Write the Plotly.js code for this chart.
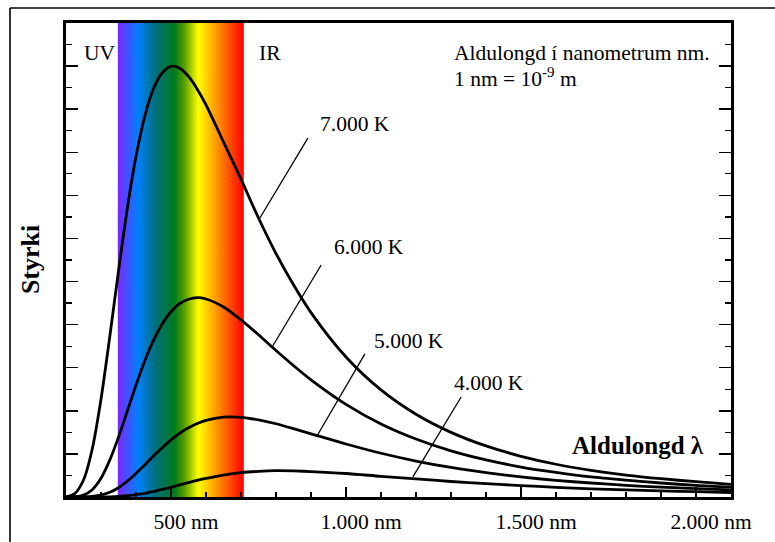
<!DOCTYPE html>
<html>
<head>
<meta charset="utf-8">
<script src="https://cdn.plot.ly/plotly-3.0.1.min.js"></script>
<style>body{margin:0;background:#fff}</style>
</head>
<body>
<div id="chart" style="width:775px;height:542px"></div>
<script>
// ---- data ----
const wavelengthNm = [200,225,250,275,300,325,350,375,400,425,450,475,500,525,550,575,600,650,700,750,800,850,900,1000,1100,1200,1300,1400,1500,1600,1700,1800,1900,2000,2100];
const intensity7000K = [0.01,0.16,0.79,2.23,4.54,7.43,10.49,13.37,15.80,17.67,18.95,19.69,19.99,19.90,19.52,18.93,18.20,16.48,14.75,12.95,11.30,9.85,8.56,6.50,4.97,3.84,3.00,2.37,1.89,1.52,1.24,1.02,0.85,0.71,0.59];
const intensity6000K = [0.00,0.01,0.09,0.34,0.87,1.71,2.78,3.98,5.19,6.31,7.27,8.03,8.60,8.98,9.18,9.25,9.19,8.82,8.22,7.53,6.80,6.10,5.44,4.30,3.39,2.69,2.14,1.72,1.39,1.14,0.93,0.78,0.65,0.54,0.46];
const intensity5000K = [0,0,0,0.03,0.09,0.22,0.43,0.73,1.09,1.49,1.90,2.29,2.65,2.96,3.21,3.41,3.56,3.71,3.70,3.58,3.40,3.17,2.93,2.46,2.03,1.67,1.37,1.13,0.93,0.77,0.65,0.54,0.46,0.39,0.33];
const intensity4000K = [0,0,0,0,0,0.01,0.03,0.06,0.11,0.17,0.26,0.35,0.45,0.56,0.67,0.77,0.86,1.02,1.13,1.19,1.22,1.21,1.18,1.09,0.96,0.84,0.72,0.62,0.53,0.45,0.38,0.33,0.28,0.25,0.21];
const seriesLabels = ['7.000 K','6.000 K','5.000 K','4.000 K'];
const xTickVals = [500,1000,1500,2000];
const xTickText = ['500 nm','1.000 nm','1.500 nm','2.000 nm'];
const visibleBandNm = [348, 708];
const yMax = 22;

// ---- styling / layout ----
const FONT = 'Liberation Serif, Times New Roman, serif';
const TXT = 21.5;
const spectrumScale = [
  [0.00,'#7d26ff'],[0.16,'#0080ff'],[0.30,'#00707a'],[0.45,'#007a1e'],
  [0.53,'#5aa000'],[0.64,'#ffff00'],[0.78,'#ff9a00'],[1.00,'#ff0000']
];

const series = [intensity7000K, intensity6000K, intensity5000K, intensity4000K];

const traces = [{
  type:'scatter', mode:'lines',
  x:[visibleBandNm[0], visibleBandNm[1], visibleBandNm[1], visibleBandNm[0], visibleBandNm[0]],
  y:[0, 0, yMax, yMax, 0],
  fill:'toself', line:{width:0},
  fillgradient:{type:'horizontal', colorscale: spectrumScale},
  hoverinfo:'skip'
}];
series.forEach(s => traces.push({
  type:'scatter', mode:'lines', x: wavelengthNm, y: s,
  line:{color:'#000', width:2.8, shape:'spline', smoothing:0.8},
  hoverinfo:'skip'
}));

// label & leader positions [labelX, labelY, leaderX0, leaderY0, leaderX1, leaderY1]
const labelPos = [
  [920, 17.31, 891, 16.66, 754, 12.95],
  [960, 11.60, 929, 10.77, 789, 6.96],
  [1074, 7.24, 1054, 6.64, 917, 2.83],
  [1303, 5.29, 1329, 4.64, 1191, 0.93]
];

const annotations = labelPos.map((p,i) => ({
  x:p[0], y:p[1], xref:'x', yref:'y', text: seriesLabels[i], showarrow:false,
  xanchor:'left', yanchor:'middle', font:{family:FONT, size:TXT, color:'#000'}
}));
annotations.push(
  {x:247, y:20.61, xref:'x', yref:'y', text:'UV', showarrow:false, xanchor:'left', yanchor:'middle', font:{family:FONT,size:TXT,color:'#000'}},
  {x:747, y:20.61, xref:'x', yref:'y', text:'IR', showarrow:false, xanchor:'left', yanchor:'middle', font:{family:FONT,size:TXT,color:'#000'}},
  {x:1302, y:20.61, xref:'x', yref:'y', text:'Aldulongd í nanometrum nm.', showarrow:false, xanchor:'left', yanchor:'middle', font:{family:FONT,size:TXT,color:'#000'}},
  {x:1302, y:19.45, xref:'x', yref:'y', text:'1 nm = 10<sup>-9</sup> m', showarrow:false, xanchor:'left', yanchor:'middle', font:{family:FONT,size:TXT,color:'#000'}},
  {x:1640, y:2.41, xref:'x', yref:'y', text:'<b>Aldulongd λ</b>', showarrow:false, xanchor:'left', yanchor:'middle', font:{family:FONT,size:25,color:'#000'}},
  {x:-0.054, y:0.5, xref:'paper', yref:'paper', text:'<b>Styrki</b>', textangle:-90, showarrow:false, xanchor:'center', yanchor:'middle', font:{family:FONT,size:26,color:'#000'}}
);

const shapes = labelPos.map(p => ({
  type:'line', xref:'x', yref:'y', x0:p[2], y0:p[3], x1:p[4], y1:p[5],
  line:{color:'#000', width:1.3}
}));
// outer frame (top & left)
shapes.push(
  {type:'line', xref:'paper', yref:'paper', x0:-0.0842, y0:1.0316, x1:1.2, y1:1.0316, line:{color:'#000', width:1.6}},
  {type:'line', xref:'paper', yref:'paper', x0:-0.0842, y0:1.0316, x1:-0.0842, y1:-0.2, line:{color:'#000', width:1.6}}
);

const layout = {
  width:775, height:542,
  margin:{l:66, r:44, t:23, b:45},
  paper_bgcolor:'#fff', plot_bgcolor:'#fff',
  showlegend:false,
  font:{family:FONT, size:TXT, color:'#000'},
  xaxis:{
    range:[200, 2100], tickmode:'array', tickvals:xTickVals, ticktext:xTickText,
    ticks:'inside', ticklen:10, tickwidth:1.5, tickcolor:'#000',
    minor:{tickmode:'linear', tick0:0, dtick:100, ticks:'inside', ticklen:5, tickwidth:1.3, tickcolor:'#000'},
    showline:true, linewidth:3, linecolor:'#000', mirror:true,
    showgrid:false, zeroline:false,
    tickfont:{family:FONT, size:TXT, color:'#000'},
    ticklabelshift:15, ticklabelstandoff:3
  },
  yaxis:{
    range:[0, yMax], tickmode:'linear', tick0:0, dtick:2,
    ticks:'inside', ticklen:12, tickwidth:1.5, tickcolor:'#000',
    minor:{tickmode:'linear', tick0:0, dtick:1, ticks:'inside', ticklen:6, tickwidth:1.3, tickcolor:'#000'},
    showticklabels:false,
    showline:true, linewidth:3, linecolor:'#000', mirror:'ticks',
    showgrid:false, zeroline:false
  },
  annotations, shapes
};

Plotly.newPlot('chart', traces, layout, {staticPlot:true, displayModeBar:false});
</script>
</body>
</html>
